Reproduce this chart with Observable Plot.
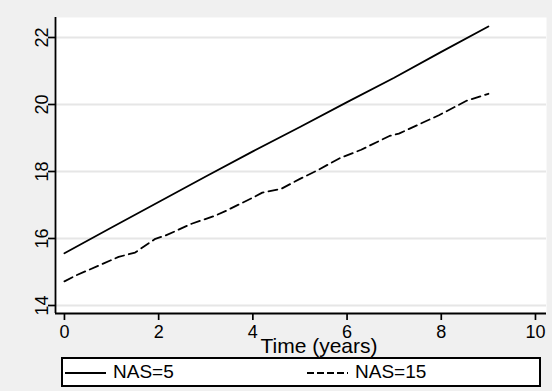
<!DOCTYPE html>
<html>
<head>
<meta charset="utf-8">
<script src="https://cdn.jsdelivr.net/npm/d3@7"></script>
<script src="https://cdn.jsdelivr.net/npm/@observablehq/plot@0.6"></script>
<style>
  html, body { margin: 0; padding: 0; background: #f0f0f0; }
  #wrap { width: 552px; height: 391px; position: relative; overflow: hidden; background: #f0f0f0; font-family: 'Liberation Sans', Arial, sans-serif; }
  #legend { position: absolute; left: 61px; top: 357px; width: 480px; height: 30px; box-sizing: border-box; border: 2px solid black; background: white; }
  .sample { position: absolute; top: 12px; }
  .lab { position: absolute; top: 2px; font-size: 19px; line-height: 22px; color: black; white-space: nowrap; }
</style>
</head>
<body>
<div id="wrap"></div>
<script>
// Data
const xTicks = [0, 2, 4, 6, 8, 10];
const yTicks = [14, 16, 18, 20, 22];
const xDomain = [-0.19, 10.234];
const yDomain = [13.761, 22.597];

const seriesNames = ["NAS=5", "NAS=15"];

const years5 = [0, 1, 2, 3, 4, 5, 6, 7, 8, 9];
const nas5 = [15.56, 16.33, 17.09, 17.85, 18.6, 19.33, 20.07, 20.8, 21.57, 22.33];

const years15 = [0, 0.25, 1.15, 1.5, 1.93, 2.15, 2.7, 3.2, 3.45, 4.0, 4.2, 4.6, 5.0, 5.35, 5.85, 6.3, 6.9, 7.1, 7.95, 8.55, 9.0];
const nas15 = [14.72, 14.9, 15.45, 15.58, 15.99, 16.09, 16.44, 16.68, 16.84, 17.22, 17.37, 17.48, 17.78, 18.02, 18.4, 18.65, 19.06, 19.13, 19.68, 20.12, 20.32];

const xTitle = "Time (years)";

const d5 = years5.map((t, i) => ({t, v: nas5[i]}));
const d15 = years15.map((t, i) => ({t, v: nas15[i]}));

const chart = Plot.plot({
  width: 552,
  height: 356,
  marginTop: 17,
  marginBottom: 43,
  marginLeft: 55,
  marginRight: 6,
  style: {background: "#f0f0f0", fontFamily: "'Liberation Sans', Arial, sans-serif", fontSize: "18px", color: "black", overflow: "visible"},
  x: {domain: xDomain},
  y: {domain: yDomain},
  marks: [
    Plot.frame({fill: "white", stroke: null}),
    Plot.gridY(yTicks, {stroke: "#e6e6e6", strokeOpacity: 1, strokeWidth: 2}),
    Plot.axisX(xTicks, {tickSize: 7, tickPadding: 5, strokeWidth: 1.7, label: null, fontSize: 18}),
    Plot.axisY(yTicks, {tickSize: 7, tickPadding: 1, tickRotate: -90, strokeWidth: 1.7, label: null, fontSize: 18}),
    Plot.ruleX([xDomain[0]], {stroke: "black", strokeWidth: 1.8}),
    Plot.ruleY([yDomain[0]], {stroke: "black", strokeWidth: 1.8}),
    Plot.line(d5, {x: "t", y: "v", stroke: "black", strokeWidth: 1.8}),
    Plot.line(d15, {x: "t", y: "v", stroke: "black", strokeWidth: 1.8, strokeDasharray: "9 5"}),
    Plot.text([xTitle], {frameAnchor: "bottom", lineAnchor: "bottom", dx: 18, dy: 39, fontSize: 21, fill: "black"})
  ]
});

const wrap = document.getElementById("wrap");
wrap.appendChild(chart);

// Legend (below the SVG)
const legend = document.createElement("div");
legend.id = "legend";
const entries = [
  {name: seriesNames[0], dash: null, sx: 2, tx: 50},
  {name: seriesNames[1], dash: "7 3", sx: 244, tx: 292}
];
for (const e of entries) {
  const s = document.createElementNS("http://www.w3.org/2000/svg", "svg");
  s.setAttribute("width", "41");
  s.setAttribute("height", "4");
  s.setAttribute("class", "sample");
  s.style.left = e.sx + "px";
  const ln = document.createElementNS("http://www.w3.org/2000/svg", "line");
  ln.setAttribute("x1", "0"); ln.setAttribute("x2", "41");
  ln.setAttribute("y1", "2"); ln.setAttribute("y2", "2");
  ln.setAttribute("stroke", "black"); ln.setAttribute("stroke-width", "2");
  if (e.dash) ln.setAttribute("stroke-dasharray", e.dash);
  s.appendChild(ln);
  legend.appendChild(s);
  const t = document.createElement("div");
  t.className = "lab";
  t.style.left = e.tx + "px";
  t.textContent = e.name;
  legend.appendChild(t);
}
wrap.appendChild(legend);
</script>
</body>
</html>
